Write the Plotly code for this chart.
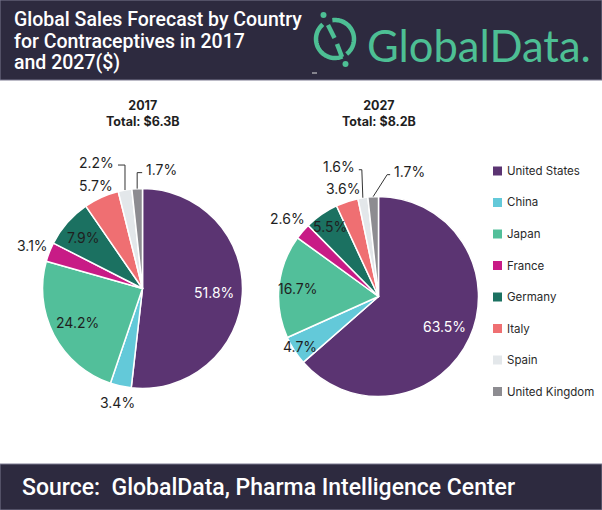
import math
import plotly.graph_objects as go

W, H = 602, 510

countries = ["United States", "China", "Japan", "France", "Germany", "Italy", "Spain", "United Kingdom"]
share_2017 = [51.8, 3.4, 24.2, 3.1, 7.9, 5.7, 2.2, 1.7]
share_2027 = [63.5, 4.7, 16.7, 2.6, 5.5, 3.6, 1.6, 1.7]
colors = ["#5B3472", "#63C9D9", "#52BF9A", "#C81B86", "#1B7161", "#EF6F72", "#E3E7EA", "#8D8C91"]
titles = ["2017<br>Total: $6.3B", "2027<br>Total: $8.2B"]

# label placement style: radial factor (fraction of radius) or elbow leader (slant dx, rise, horizontal dx)
label_style_2017 = [0.72, 1.165, 0.73, 1.18, 0.78, 1.13, ("elbow", 0, 25, -7), ("elbow", 0, 16, 5)]
label_style_2027 = [0.73, 0.93, 0.81, 1.2, 0.85, 1.14, ("elbow", -1, 28, -3), ("elbow", 14, 22, 3)]

DARK = "#2D2A3F"
GREEN = "#4DBF94"
LABEL_FONT = "Inter"
TEXT_DARK = "#1f1f1f"
LABEL_SIZE = 14


def px(x, y):
    return x / W, 1 - y / H


def pie_domain(cx, cy, r):
    x0, y0 = px(cx - r, cy + r)
    x1, y1 = px(cx + r, cy - r)
    return dict(x=[x0, x1], y=[y0, y1])


centers = [(142.5, 288.5, 100), (378.5, 296.5, 100)]

shapes = []
annotations = []

fig = go.Figure()
for vals, styles, (cx, cy, r) in zip([share_2017, share_2027], [label_style_2017, label_style_2027], centers):
    fig.add_trace(go.Pie(
        labels=countries, values=vals, sort=False, direction="clockwise", rotation=0,
        marker=dict(colors=colors, line=dict(color="white", width=1.5)),
        textinfo="none", domain=pie_domain(cx, cy, r), showlegend=False, hoverinfo="label+value",
    ))
    total = sum(vals)
    cum = 0.0
    for i, (v, st) in enumerate(zip(vals, styles)):
        mid = (cum + v / 2) / total * 2 * math.pi
        cum += v
        sx, sy = math.sin(mid), -math.cos(mid)
        text = f"{v:.1f}%"
        color = "white" if i == 0 else TEXT_DARK
        if isinstance(st, tuple):
            _, sdx, rise, hdx = st
            p0 = (cx + r * sx, cy + r * sy)
            p1 = (p0[0] + sdx, p0[1] - rise)
            p2 = (p1[0] + hdx, p1[1])
            path = "M " + " L ".join("%.5f,%.5f" % px(*p) for p in (p0, p1, p2))
            shapes.append(dict(type="path", xref="paper", yref="paper", path=path,
                               line=dict(color="#333333", width=1)))
            tx, ty = px(p2[0] + (1.5 if hdx > 0 else -1.5), p2[1] - 3)
            annotations.append(dict(text=text, x=tx, y=ty, xref="paper", yref="paper",
                                    xanchor="left" if hdx > 0 else "right", yanchor="middle", showarrow=False,
                                    font=dict(family=LABEL_FONT, size=LABEL_SIZE, color=color)))
        else:
            tx, ty = px(cx + st * r * sx, cy + st * r * sy)
            annotations.append(dict(text=text, x=tx, y=ty, xref="paper", yref="paper",
                                    xanchor="center", yanchor="middle", showarrow=False,
                                    font=dict(family=LABEL_FONT, size=LABEL_SIZE, color=color)))

# header and footer bands
hx0, hy0 = px(0, 80)
hx1, hy1 = px(W, 0)
shapes.append(dict(type="rect", xref="paper", yref="paper", x0=hx0, y0=hy0, x1=hx1, y1=hy1,
                   fillcolor=DARK, line=dict(color="#7b7990", width=1), layer="below"))
fx0, fy0 = px(0, H)
fx1, fy1 = px(W, 464)
shapes.append(dict(type="rect", xref="paper", yref="paper", x0=fx0, y0=fy0, x1=fx1, y1=fy1,
                   fillcolor=DARK, line=dict(color="#7b7990", width=1), layer="below"))

# header title
for i, line in enumerate(["Global Sales Forecast by Country", "for Contraceptives in 2017", "and 2027($)"]):
    x, y = px(12, 20 + i * 21)
    annotations.append(dict(text=line, x=x, y=y, xref="paper", yref="paper", xanchor="left", yanchor="middle",
                            showarrow=False, font=dict(family="Roboto", size=19.5, color="white", weight=500)))

# logo text
x, y = px(365, 45)
annotations.append(dict(text="GlobalData.", x=x, y=y, xref="paper", yref="paper", xanchor="left", yanchor="middle",
                        showarrow=False, font=dict(family="Lato", size=43.5, color=GREEN)))

# logo icon
cxl, cyl, rl = 335, 39, 19


def arc(a0, a1, n=40):
    pts = []
    for k in range(n + 1):
        a = math.radians(a0 + (a1 - a0) * k / n)
        pts.append(px(cxl + rl * math.cos(a), cyl - rl * math.sin(a)))
    return "M " + " L ".join(f"{p[0]:.5f},{p[1]:.5f}" for p in pts)


for a0, a1 in [(130, 293), (-52, 98)]:
    shapes.append(dict(type="path", xref="paper", yref="paper", path=arc(a0, a1),
                       line=dict(color=GREEN, width=4.5)))
for (xa, ya), (xb, yb) in [((328, 25), (334.5, 38)), ((337, 44), (342, 57))]:
    X0, Y0 = px(xa, ya)
    X1, Y1 = px(xb, yb)
    shapes.append(dict(type="line", xref="paper", yref="paper", x0=X0, y0=Y0, x1=X1, y1=Y1,
                       line=dict(color=GREEN, width=4.5)))
for dx, dy in [(323.5, 15), (345.5, 64)]:
    X0, Y0 = px(dx - 3, dy + 3)
    X1, Y1 = px(dx + 3, dy - 3)
    shapes.append(dict(type="circle", xref="paper", yref="paper", x0=X0, y0=Y0, x1=X1, y1=Y1,
                       fillcolor=GREEN, line=dict(width=0)))
X0, Y0 = px(312, 73)
X1, Y1 = px(317, 73)
shapes.append(dict(type="line", xref="paper", yref="paper", x0=X0, y0=Y0, x1=X1, y1=Y1,
                   line=dict(color="#dddddd", width=1)))

# pie titles
for t, (cx, cy, r) in zip(titles, centers):
    x, y = px(cx, 113)
    annotations.append(dict(text=f"<b>{t}</b>", x=x, y=y, xref="paper", yref="paper", xanchor="center",
                            yanchor="middle", showarrow=False,
                            font=dict(family=LABEL_FONT, size=12.5, color=TEXT_DARK)))

# legend
for i, (name, c) in enumerate(zip(countries, colors)):
    yc = 171 + i * 31.5
    X0, Y0 = px(493, yc + 4.5)
    X1, Y1 = px(502, yc - 4.5)
    shapes.append(dict(type="rect", xref="paper", yref="paper", x0=X0, y0=Y0, x1=X1, y1=Y1,
                       fillcolor=c, line=dict(width=0)))
    x, y = px(505, yc)
    annotations.append(dict(text=name, x=x, y=y, xref="paper", yref="paper", xanchor="left", yanchor="middle",
                            showarrow=False, font=dict(family=LABEL_FONT, size=11.5, color="#2a2a2a")))

# footer text
x, y = px(20, 487)
annotations.append(dict(text="Source:  GlobalData, Pharma Intelligence Center", x=x, y=y, xref="paper", yref="paper",
                        xanchor="left", yanchor="middle", showarrow=False,
                        font=dict(family="Roboto", size=23, color="white", weight=500)))

fig.update_layout(width=W, height=H, margin=dict(l=0, r=0, t=0, b=0), paper_bgcolor="white",
                  plot_bgcolor="white", shapes=shapes, annotations=annotations, showlegend=False)
fig.write_html("out.html", config={"displayModeBar": False},
               post_script="document.body.style.margin='0';document.body.style.overflow='hidden';")
